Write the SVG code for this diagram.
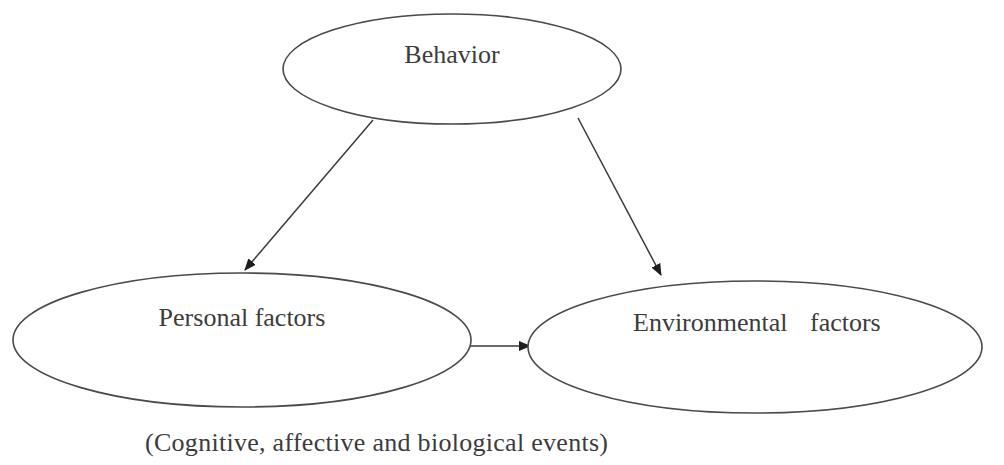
<svg xmlns="http://www.w3.org/2000/svg" width="1004" height="465" viewBox="0 0 1004 465">
  <style>
    .node ellipse { fill: #ffffff; stroke: #4a4a4a; stroke-width: 1.6; }
    .label { font-family: "Liberation Serif", "Times New Roman", serif; font-size: 26px; fill: #3c3c3c; }
    .edge { stroke: #3a3a3a; stroke-width: 1.5; fill: none; marker-end: url(#head); }
  </style>
  <defs>
    <marker id="head" viewBox="0 0 12 10" refX="11" refY="5" markerWidth="12" markerHeight="10" markerUnits="userSpaceOnUse" orient="auto">
      <path d="M0,0 L12,5 L0,10 Z" fill="#1e1e1e"/>
    </marker>
  </defs>
  <rect width="1004" height="465" fill="#ffffff"/>

  <!-- connectors -->
  <g id="connectors">
    <line class="edge" x1="373" y1="120" x2="245" y2="270"/>
    <line class="edge" x1="578" y1="118" x2="661" y2="275"/>
    <line class="edge" x1="469" y1="346" x2="530" y2="346"/>
  </g>

  <g id="behavior" class="node">
    <ellipse cx="452" cy="69" rx="169" ry="55"/>
    <text class="label" x="452" y="63" text-anchor="middle">Behavior</text>
  </g>

  <g id="personal" class="node">
    <ellipse cx="242" cy="340" rx="229" ry="67"/>
    <text class="label" x="242" y="326" text-anchor="middle">Personal factors</text>
  </g>

  <g id="environmental" class="node">
    <ellipse cx="755" cy="347" rx="227" ry="66"/>
    <text class="label" x="633" y="331">Environmental<tspan x="810">factors</tspan></text>
  </g>

  <text id="caption" class="label" x="145" y="451" font-size="26.7" textLength="463">(Cognitive, affective and biological events)</text>
</svg>
